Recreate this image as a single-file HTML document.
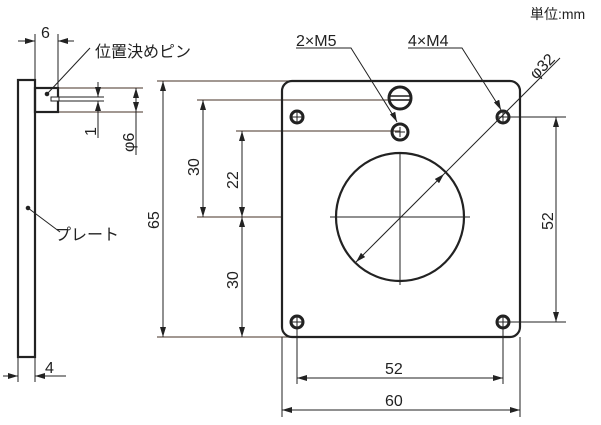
<!DOCTYPE html>
<html><head><meta charset="utf-8"><style>
html,body{margin:0;padding:0;background:#fff;}
svg{display:block;font-family:"Liberation Sans","Noto Sans CJK JP",sans-serif;}
</style></head><body>
<svg width="601" height="425" viewBox="0 0 601 425" xmlns="http://www.w3.org/2000/svg">
<defs>
<marker id="a" viewBox="0 0 10 6" refX="10" refY="3" markerWidth="10" markerHeight="6" orient="auto-start-reverse" markerUnits="userSpaceOnUse"><path d="M0,0L10,3L0,6z" fill="#222"/></marker>
</defs>
<g stroke="#6b5a50" stroke-width="1.2" fill="none">
<line x1="157" y1="81" x2="290" y2="81"/>
<line x1="157" y1="337" x2="290" y2="337"/>
<line x1="197" y1="100" x2="412" y2="100"/>
<line x1="236" y1="131" x2="400" y2="131"/>
<line x1="197" y1="217" x2="282" y2="217"/>
<line x1="57" y1="88" x2="143" y2="88"/>
<line x1="57" y1="112" x2="143" y2="112"/>
</g>
<g stroke="#222" stroke-width="1" fill="none">
<line x1="503" y1="117" x2="566" y2="117"/>
<line x1="503" y1="322" x2="566" y2="322"/>
<line x1="297" y1="322" x2="297" y2="384"/>
<line x1="503" y1="322" x2="503" y2="384"/>
<line x1="282" y1="337" x2="282" y2="417"/>
<line x1="520" y1="337" x2="520" y2="417"/>
<line x1="18" y1="357" x2="18" y2="382"/>
<line x1="35" y1="357" x2="35" y2="382"/>
<line x1="35" y1="34" x2="35" y2="80"/>
<line x1="58" y1="34" x2="58" y2="88"/>
<line x1="58" y1="97" x2="104" y2="97"/>
<line x1="58" y1="101" x2="104" y2="101"/>
<line x1="163" y1="81" x2="163" y2="337" marker-start="url(#a)" marker-end="url(#a)"/>
<line x1="203" y1="100" x2="203" y2="217" marker-start="url(#a)" marker-end="url(#a)"/>
<line x1="242" y1="131" x2="242" y2="217" marker-start="url(#a)" marker-end="url(#a)"/>
<line x1="242" y1="217" x2="242" y2="337" marker-start="url(#a)" marker-end="url(#a)"/>
<line x1="556" y1="117" x2="556" y2="322" marker-start="url(#a)" marker-end="url(#a)"/>
<line x1="297" y1="378" x2="503" y2="378" marker-start="url(#a)" marker-end="url(#a)"/>
<line x1="282" y1="410" x2="520" y2="410" marker-start="url(#a)" marker-end="url(#a)"/>
<line x1="136" y1="88" x2="136" y2="112" marker-start="url(#a)" marker-end="url(#a)"/>
<line x1="136" y1="112" x2="136" y2="155"/>
<line x1="98" y1="82" x2="98" y2="97" marker-end="url(#a)"/>
<line x1="98" y1="116" x2="98" y2="101" marker-end="url(#a)"/>
<line x1="98" y1="116" x2="98" y2="138"/>
<line x1="3" y1="376" x2="18" y2="376" marker-end="url(#a)"/>
<line x1="58" y1="376" x2="35" y2="376" marker-end="url(#a)"/>
<line x1="58" y1="376" x2="66" y2="376"/>
<line x1="18" y1="41" x2="35" y2="41" marker-end="url(#a)"/>
<line x1="74" y1="41" x2="58" y2="41" marker-end="url(#a)"/>
<line x1="400" y1="152" x2="400" y2="285"/>
<line x1="330" y1="217" x2="470" y2="217"/>
<line x1="356" y1="262" x2="444" y2="174" marker-start="url(#a)" marker-end="url(#a)"/>
<line x1="444" y1="174" x2="560" y2="58"/>
<polyline points="296,48 351,48 396,120" />
<line x1="396" y1="120" x2="397" y2="122" marker-end="url(#a)"/>
<polyline points="408,48 462,48 500,108"/>
<line x1="500" y1="108" x2="501" y2="110" marker-end="url(#a)"/>
<line x1="90" y1="48" x2="47" y2="94"/>
<circle cx="47" cy="94" r="1.8" fill="#222"/>
<line x1="60" y1="232" x2="28" y2="208"/>
<circle cx="28" cy="208" r="1.8" fill="#222"/>
</g>
<rect x="282" y="81" width="238" height="256" rx="10" fill="none" stroke="#222" stroke-width="2.2"/>
<circle cx="400" cy="217" r="64" fill="none" stroke="#222" stroke-width="2.2"/>
<g stroke="#222" fill="none">
<circle cx="400" cy="98" r="11" stroke-width="3"/>
<line x1="388" y1="96" x2="412" y2="96" stroke-width="1.5"/>
<line x1="388" y1="100" x2="412" y2="100" stroke-width="1.5"/>
<circle cx="400" cy="132" r="8" stroke-width="3"/>
<path d="M395,132h10M400,127v10" stroke-width="1"/>
<circle cx="297" cy="117" r="6" stroke-width="3"/><path d="M292,117h10M297,112v10"/>
<circle cx="503" cy="117" r="6" stroke-width="3"/><path d="M498,117h10M503,112v10"/>
<circle cx="297" cy="322" r="6" stroke-width="3"/><path d="M292,322h10M297,317v10"/>
<circle cx="503" cy="322" r="6" stroke-width="3"/><path d="M498,322h10M503,317v10"/>
</g>
<rect x="18" y="80" width="17" height="277" fill="none" stroke="#222" stroke-width="2.2"/>
<rect x="35" y="88" width="23" height="24" fill="none" stroke="#222" stroke-width="2.2"/>
<rect x="51" y="97" width="8" height="4" fill="#fff" stroke="#222" stroke-width="1"/>
<g font-size="16" fill="#222">
<text x="530" y="19" font-size="14">単位:mm</text>
<text x="296" y="46">2×M5</text>
<text x="408" y="46">4×M4</text>
<text x="536" y="80" transform="rotate(-45 536 80)">φ32</text>
<text x="41" y="38">6</text>
<text x="95" y="57">位置決めピン</text>
<text x="55" y="240">プレート</text>
<text x="45" y="373">4</text>
<text x="385" y="374">52</text>
<text x="385" y="406">60</text>
<text transform="translate(96,136) rotate(-90)">1</text>
<text transform="translate(134,152) rotate(-90)">φ6</text>
<text transform="translate(159,229) rotate(-90)">65</text>
<text transform="translate(199,176) rotate(-90)">30</text>
<text transform="translate(238,189) rotate(-90)">22</text>
<text transform="translate(238,289) rotate(-90)">30</text>
<text transform="translate(553,230) rotate(-90)">52</text>
</g>
</svg>
</body></html>
